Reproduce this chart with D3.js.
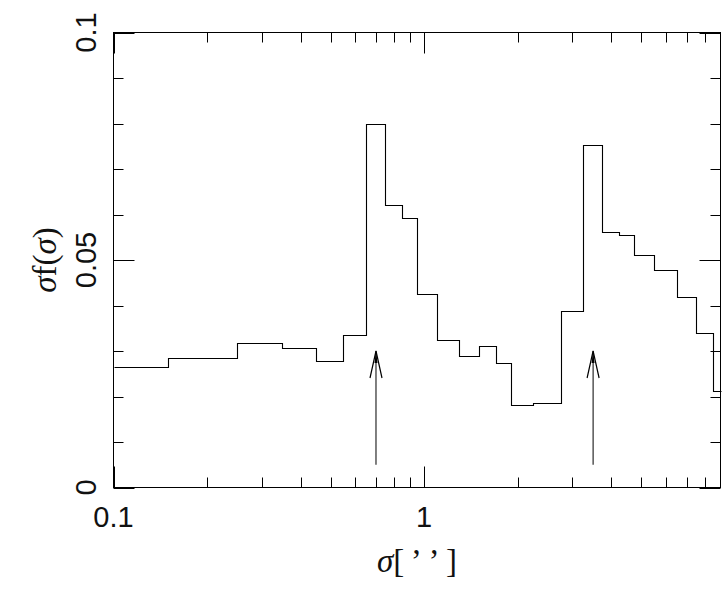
<!DOCTYPE html>
<html>
<head>
<meta charset="utf-8">
<script src="https://cdn.jsdelivr.net/npm/d3@7"></script>
<style>
  body { margin: 0; background: #fff; }
  svg { display: block; }
  .tick-label { font-family: "Liberation Sans", "DejaVu Sans", sans-serif; font-size: 29px; fill: #111; }
  .title { font-family: "Liberation Serif", "DejaVu Serif", serif; font-size: 33px; fill: #111; }
</style>
</head>
<body>
<div id="chart"></div>
<script>
// bin edges in arcsec and the histogram height of each bin
const binEdges = [0.1, 0.15, 0.25, 0.35, 0.45, 0.55, 0.65, 0.75, 0.85, 0.95, 1.1, 1.3, 1.5,
  1.7, 1.9, 2.25, 2.75, 3.25, 3.75, 4.25, 4.75, 5.5, 6.5, 7.5, 8.5, 9];
const binValues = [0.0264, 0.0284, 0.0317, 0.0306, 0.0278, 0.0336, 0.0800, 0.0620, 0.0593,
  0.0425, 0.0324, 0.0288, 0.0312, 0.0273, 0.0182, 0.0185, 0.0389, 0.0752, 0.0561, 0.0554,
  0.0512, 0.0479, 0.0418, 0.0339, 0.0211];

// marker arrows
const arrowX = [0.7, 3.5];
const arrowFrom = 0.005;
const arrowTo = 0.030;

// ticks
const xMajor = [0.1, 1];
const xMinor = [0.2, 0.3, 0.4, 0.5, 0.6, 0.7, 0.8, 0.9, 2, 3, 4, 5, 6, 7, 8];
const xLabels = [{ v: 0.1, t: '0.1' }, { v: 1, t: '1' }];
const yMajor = [0, 0.05, 0.1];
const yMinor = [0.01, 0.02, 0.03, 0.04, 0.06, 0.07, 0.08, 0.09];
const yLabels = [{ v: 0, t: '0' }, { v: 0.05, t: '0.05' }, { v: 0.1, t: '0.1' }];

const W = 727, H = 590;
const m = { left: 113.5, right: 720.5, top: 32.5, bottom: 487.5 };
const minorLen = 10, majorLen = 21;

const svg = d3.select('#chart').append('svg')
  .attr('width', W)
  .attr('height', H);

const x = d3.scaleLog().domain([0.1, 9]).range([m.left, m.right]);
const y = d3.scaleLinear().domain([0, 0.1]).range([m.bottom, m.top]);

// frame
svg.append('rect')
  .attr('x', m.left).attr('y', m.top)
  .attr('width', m.right - m.left).attr('height', m.bottom - m.top)
  .attr('fill', 'none').attr('stroke', '#000').attr('stroke-width', 1);

const ticks = svg.append('g').attr('stroke', '#000').attr('stroke-width', 1);

// x ticks on bottom and top
const xt = xMinor.map(v => ({ v, len: minorLen })).concat(xMajor.map(v => ({ v, len: majorLen })));
xt.forEach(d => {
  const px = Math.round(x(d.v)) + 0.5;
  ticks.append('line').attr('x1', px).attr('x2', px).attr('y1', m.bottom).attr('y2', m.bottom - d.len);
  ticks.append('line').attr('x1', px).attr('x2', px).attr('y1', m.top).attr('y2', m.top + d.len);
});

// y ticks on left and right
const yt = yMinor.map(v => ({ v, len: minorLen })).concat(yMajor.map(v => ({ v, len: majorLen })));
yt.forEach(d => {
  const py = Math.round(y(d.v)) + 0.5;
  ticks.append('line').attr('y1', py).attr('y2', py).attr('x1', m.left).attr('x2', m.left + d.len);
  ticks.append('line').attr('y1', py).attr('y2', py).attr('x1', m.right).attr('x2', m.right - d.len);
});

// histogram as a step line
const pts = binValues.map((v, i) => [binEdges[i], v]);
pts.push([binEdges[binEdges.length - 1], binValues[binValues.length - 1]]);

const step = d3.line()
  .curve(d3.curveStepAfter)
  .x(d => Math.round(x(d[0])) + 0.5)
  .y(d => Math.round(y(d[1])) + 0.5);

svg.append('path')
  .datum(pts)
  .attr('d', step)
  .attr('fill', 'none')
  .attr('stroke', '#000')
  .attr('stroke-width', 1.1);

// arrows
const arrows = svg.append('g').attr('stroke', '#000').attr('fill', 'none');
arrowX.forEach(v => {
  const px = x(v);
  const y0 = y(arrowFrom), y1 = y(arrowTo);
  arrows.append('line')
    .attr('x1', px).attr('x2', px)
    .attr('y1', y0).attr('y2', y1)
    .attr('stroke-width', 1);
  arrows.append('path')
    .attr('d', `M${px - 6},${y1 + 27} L${px},${y1} L${px + 6},${y1 + 27}`)
    .attr('stroke-width', 1.2);
  arrows.append('path')
    .attr('d', `M${px - 1.5},${y1 + 12} L${px},${y1} L${px + 1.5},${y1 + 12} Z`)
    .attr('fill', '#000').attr('stroke', 'none');
});

// x tick labels
svg.selectAll('text.xl')
  .data(xLabels)
  .enter().append('text')
  .attr('class', 'tick-label')
  .attr('x', d => x(d.v))
  .attr('y', 527)
  .attr('text-anchor', 'middle')
  .text(d => d.t);

// y tick labels, rotated
svg.selectAll('text.yl')
  .data(yLabels)
  .enter().append('text')
  .attr('class', 'tick-label')
  .attr('transform', d => `translate(96, ${y(d.v)}) rotate(-90)`)
  .attr('text-anchor', 'middle')
  .text(d => d.t);

// axis titles
const xt1 = svg.append('text')
  .attr('class', 'title')
  .attr('x', (m.left + m.right) / 2)
  .attr('y', 572)
  .attr('text-anchor', 'middle');
xt1.append('tspan').attr('font-style', 'italic').text('σ');
xt1.append('tspan').text('[\u2009\u2019\u2009\u2019\u2009]');

const yt1 = svg.append('text')
  .attr('class', 'title')
  .attr('transform', `translate(56, ${(m.top + m.bottom) / 2}) rotate(-90)`)
  .attr('text-anchor', 'middle');
yt1.append('tspan').attr('font-style', 'italic').text('σ');
yt1.append('tspan').text('f(');
yt1.append('tspan').attr('font-style', 'italic').text('σ');
yt1.append('tspan').text(')');
</script>
</body>
</html>
